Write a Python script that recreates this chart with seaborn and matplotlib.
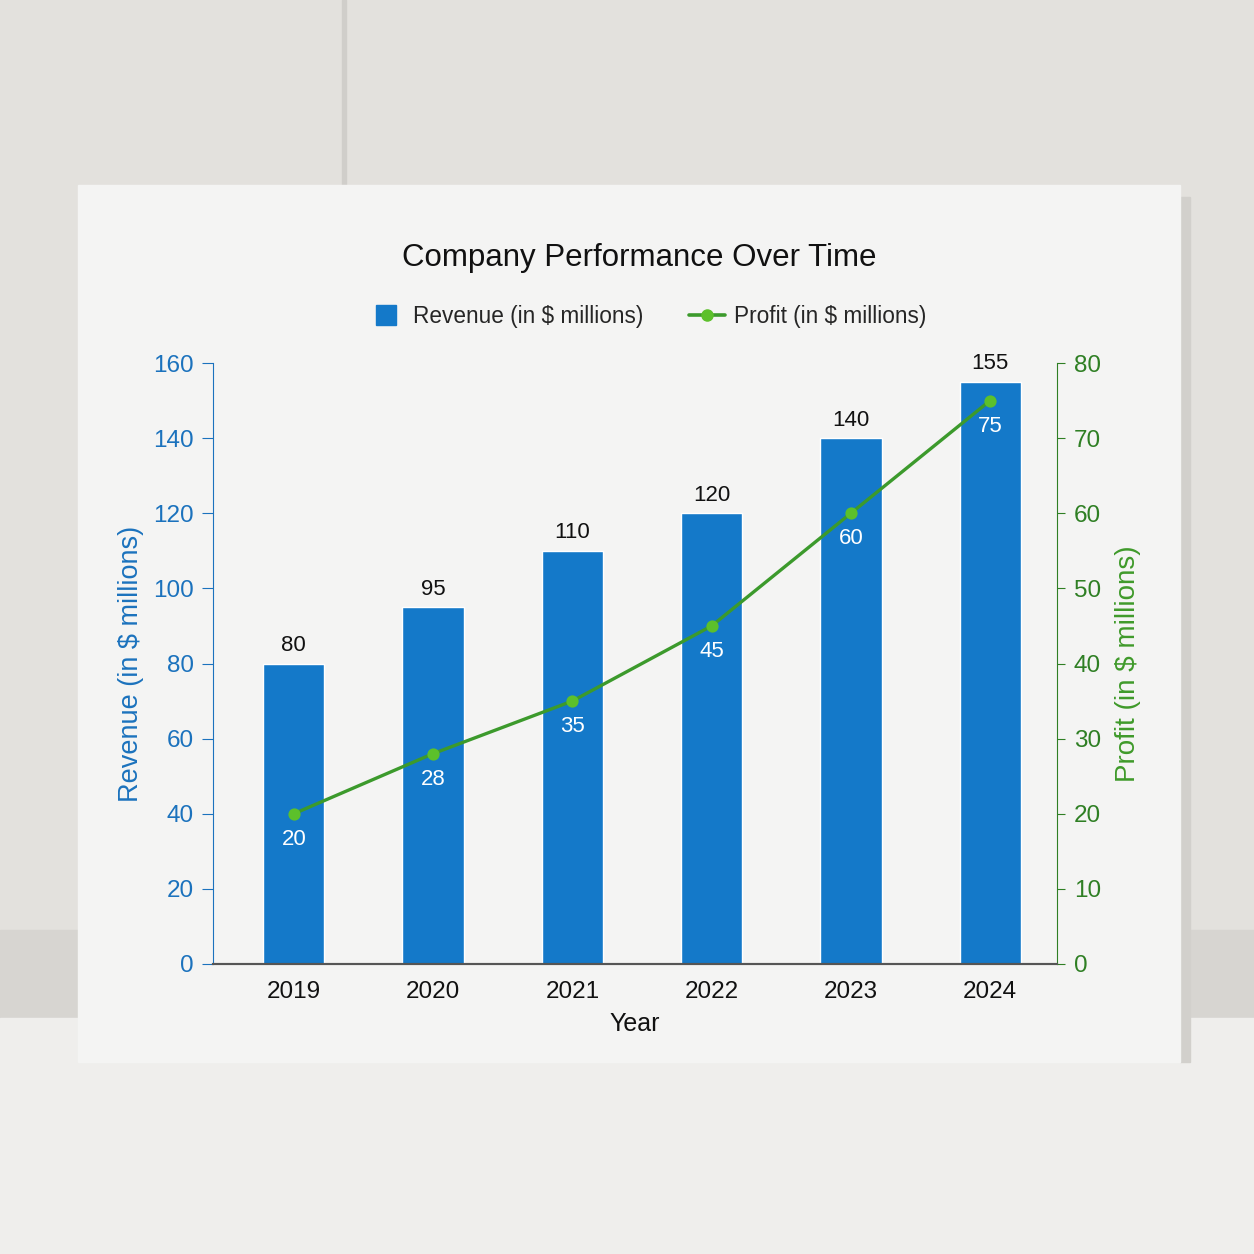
import pandas as pd
import matplotlib.pyplot as plt
import seaborn as sns
from matplotlib.patches import Rectangle
from matplotlib.lines import Line2D

years = ['2019', '2020', '2021', '2022', '2023', '2024']
revenue = [80, 95, 110, 120, 140, 155]
profit = [20, 28, 35, 45, 60, 75]

df = pd.DataFrame({'Year': years, 'Revenue': revenue, 'Profit': profit})

sns.set_style('white')
plt.rcParams['font.family'] = ['Liberation Sans', 'DejaVu Sans']

blue = '#1479c9'
blue_txt = '#1b72bd'
green_line = '#3c9a2c'
green_dot = '#5cc02b'
green_txt = '#2f7f24'

H = 1254
fig = plt.figure(figsize=(12.54, 12.54), dpi=100, facecolor='#e3e1dd')
# wall, baseboard, floor, panel seam, shadow and the sheet of paper
fig.patches.append(Rectangle((0, 1 - 1018 / H), 1, 88 / H, transform=fig.transFigure,
                             color='#d7d5d1', zorder=-4))
fig.patches.append(Rectangle((0, 0), 1, 1 - 1018 / H, transform=fig.transFigure,
                             color='#efeeec', zorder=-4))
fig.patches.append(Rectangle((342 / H, 1 - 185 / H), 4 / H, 185 / H,
                             transform=fig.transFigure, color='#d0ceca', zorder=-3))
fig.patches.append(Rectangle((1180 / H, 1 - 1062 / H), 10 / H, 865 / H,
                             transform=fig.transFigure, color='#d2d0cc', zorder=-2))
fig.patches.append(Rectangle((78 / H, 1 - 1062 / H), 1102 / H, 877 / H,
                             transform=fig.transFigure, color='#f4f4f3', zorder=-1))

ax = fig.add_axes([213 / H, 1 - 964 / H, 844 / H, 601 / H])
ax.set_facecolor('none')
sns.barplot(data=df, x='Year', y='Revenue', color=blue, width=0.44,
            saturation=1, ax=ax, zorder=2)
ax.set_xlim(-0.58, 5.48)
ax.set_ylim(0, 160)
ax.set_yticks(range(0, 161, 20))

for i, v in enumerate(revenue):
    ax.text(i, v + 2, str(v), ha='center', va='bottom', fontsize=16, color='#111111')

ax2 = ax.twinx()
sns.pointplot(data=df, x='Year', y='Profit', color=green_line, markers='o',
              markersize=7, linewidth=2.4, ax=ax2, zorder=3)
for coll in ax2.collections:
    coll.set_facecolor(green_dot)
    coll.set_edgecolor(green_dot)
for ln in ax2.lines:
    ln.set_markerfacecolor(green_dot)
    ln.set_markeredgecolor(green_dot)
ax2.set_xlim(-0.58, 5.48)
ax2.set_ylim(0, 80)
ax2.set_yticks(range(0, 81, 10))

for i, v in enumerate(profit):
    ax2.text(i, v - 2.0, str(v), ha='center', va='top', fontsize=16, color='white')

# spines and ticks
for a in (ax, ax2):
    a.spines['top'].set_visible(False)
    a.spines['bottom'].set_color('#555555')
    a.spines['bottom'].set_linewidth(1.5)
ax.spines['right'].set_visible(False)
ax2.spines['left'].set_visible(False)
ax.spines['left'].set_color(blue_txt)
ax2.spines['right'].set_color(green_txt)

ax.tick_params(axis='y', colors=blue_txt, labelsize=17.5, length=8, direction='out', pad=6)
ax.tick_params(axis='x', labelsize=17.5, length=0, pad=12, labelcolor='#111111')
ax2.tick_params(axis='y', colors=green_txt, labelsize=17.5, length=6, direction='out', pad=6)

ax.set_xlabel('Year', fontsize=18, color='#111111', labelpad=7)
ax.set_ylabel('Revenue (in $ millions)', fontsize=19.5, color=blue_txt, labelpad=6)
ax2.set_ylabel('Profit (in $ millions)', fontsize=20, color='#3f9a2a', labelpad=10)

fig.text(0.51, 1 - 258 / H, 'Company Performance Over Time', ha='center',
         va='center', fontsize=22.5, color='#111111')

handles = [Line2D([0], [0], color=blue, lw=0, marker='s', markersize=14),
           Line2D([0], [0], color=green_line, lw=2.6, marker='o', markersize=8,
                  markerfacecolor=green_dot, markeredgecolor=green_dot)]
fig.legend(handles, ['Revenue (in $ millions)', 'Profit (in $ millions)'],
           loc='center', bbox_to_anchor=(0.516, 1 - 316 / H), ncol=2,
           frameon=False, fontsize=16.3, columnspacing=2.0, handlelength=1.6,
           handletextpad=0.4)

fig.savefig('out.png', dpi=100, facecolor=fig.get_facecolor())
